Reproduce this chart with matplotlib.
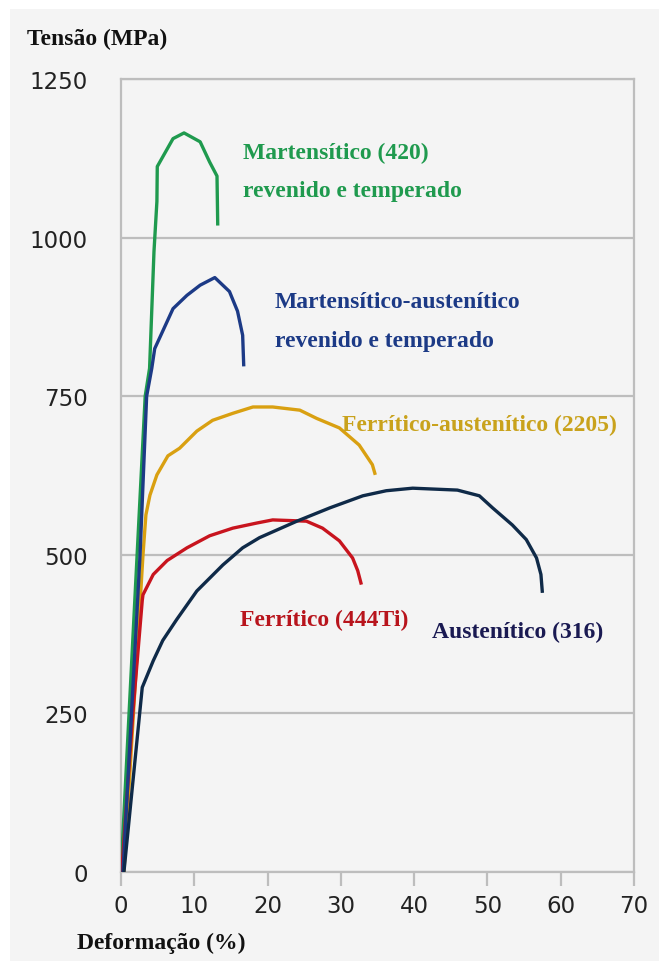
import matplotlib
matplotlib.use("Agg")
import matplotlib.pyplot as plt
from matplotlib.patches import Rectangle

# ---- data (strain %, stress MPa) ----
m420_x = [0.0, 2.2, 3.3, 3.9, 4.5, 4.9, 4.95, 7.1, 8.6, 10.8, 12.1, 13.1, 13.2]
m420_y = [0, 500, 750, 794, 978, 1057, 1112, 1156, 1165, 1151, 1119, 1097, 1019]

ma_x = [0.27, 2.6, 3.5, 4.2, 4.6, 7.1, 9.0, 10.8, 12.8, 14.8, 15.9, 16.6, 16.75]
ma_y = [0, 500, 750, 794, 825, 888, 909, 925, 937, 915, 884, 846, 797]

d2205_x = [0.4, 3.0, 3.4, 3.95, 4.9, 6.4, 8.0, 10.35, 12.5, 15.25, 18.0, 20.7, 24.4, 26.7, 29.8, 32.5, 34.3, 34.7]
d2205_y = [0, 500, 563, 594, 626, 656, 668, 695, 712, 723, 733, 733, 728, 715, 700, 673, 642, 626]

f444_x = [0.1, 1.6, 2.9, 3.0, 4.4, 6.3, 9.0, 12.1, 15.25, 18.5, 20.7, 25.3, 27.5, 29.8, 31.6, 32.3, 32.8]
f444_y = [0, 248, 428, 437, 469, 491, 511, 530, 542, 550, 555, 553, 542, 522, 495, 475, 453]

a316_x = [0.4, 2.9, 4.4, 5.7, 7.6, 10.35, 13.9, 16.6, 18.9, 24.0, 28.5, 33.0, 36.2, 39.8, 45.9, 48.9, 50.7, 53.4, 55.3, 56.7, 57.3, 57.5]
a316_y = [0, 291, 333, 365, 398, 443, 484, 511, 527, 553, 574, 593, 601, 605, 602, 593, 574, 547, 524, 495, 469, 440]

x_ticks = [0, 10, 20, 30, 40, 50, 60, 70]
y_ticks = [0, 250, 500, 750, 1000, 1250]

labels = {
    "m420": ["Martensítico (420)", "revenido e temperado"],
    "ma": ["Martensítico-austenítico", "revenido e temperado"],
    "d2205": "Ferrítico-austenítico (2205)",
    "f444": "Ferrítico (444Ti)",
    "a316": "Austenítico (316)",
}

c_green = "#1f9a4e"
c_blue = "#1c3a86"
c_gold = "#d9a011"
c_red = "#c8141e"
c_navy = "#0f2a48"
bg = "#f4f4f4"
grid_c = "#bdbdbd"

W, H = 659, 962
fig = plt.figure(figsize=(W / 100, H / 100), dpi=100, facecolor="white")
fig.patches.append(Rectangle((10 / W, 0), 1, 1 - 10 / H, transform=fig.transFigure,
                             facecolor=bg, edgecolor="none", zorder=-10))

x0, x1 = 121, 634
y0, y1 = 873, 80
ax = fig.add_axes([x0 / W, (H - y0) / H, (x1 - x0) / W, (y0 - y1) / H])
ax.set_facecolor(bg)
ax.set_xlim(0, 70)
ax.set_ylim(0, 1250)

for s in ax.spines.values():
    s.set_color(grid_c)
    s.set_linewidth(1.6)

ax.set_xticks(x_ticks)
ax.set_yticks(y_ticks)
ax.tick_params(axis="x", direction="out", length=10, width=1.6, color=grid_c,
               labelsize=16.5, labelcolor="#222222", pad=6)
ax.tick_params(axis="y", length=0, labelsize=16.5, labelcolor="#222222", pad=24)
for lab in ax.get_xticklabels() + ax.get_yticklabels():
    lab.set_fontfamily("DejaVu Sans")

ax.yaxis.grid(True, color=grid_c, linewidth=1.6)
ax.set_axisbelow(True)

lw = 2.4
kw = dict(lw=lw, solid_joinstyle="round", solid_capstyle="butt")
ax.plot(m420_x, m420_y, color=c_green, zorder=3, **kw)
ax.plot(d2205_x, d2205_y, color=c_gold, zorder=3, **kw)
ax.plot(f444_x, f444_y, color=c_red, zorder=3, **kw)
ax.plot(ma_x, ma_y, color=c_blue, zorder=4, **kw)
ax.plot(a316_x, a316_y, color=c_navy, zorder=5, **kw)

serif = "Liberation Serif"
fs = 17


def px_text(px, py, s, color, ha="left", va="center", size=fs, **kw):
    fig.text(px / W, 1 - py / H, s, color=color, ha=ha, va=va, fontsize=size,
             fontfamily=serif, fontweight="bold", **kw)


px_text(243, 153, labels["m420"][0], c_green)
px_text(243, 192, labels["m420"][1], c_green)
px_text(275, 302, labels["ma"][0], c_blue)
px_text(275, 342, labels["ma"][1], c_blue)
px_text(342, 425, labels["d2205"], "#c9a21c")
px_text(240, 620, labels["f444"], "#b8141c")
px_text(432, 632, labels["a316"], "#1a1a52")

px_text(27, 39, "Tensão (MPa)", "#111111", size=17)
px_text(77, 943, "Deformação (%)", "#111111", size=17)

fig.savefig("out.png", dpi=100, facecolor="white")
